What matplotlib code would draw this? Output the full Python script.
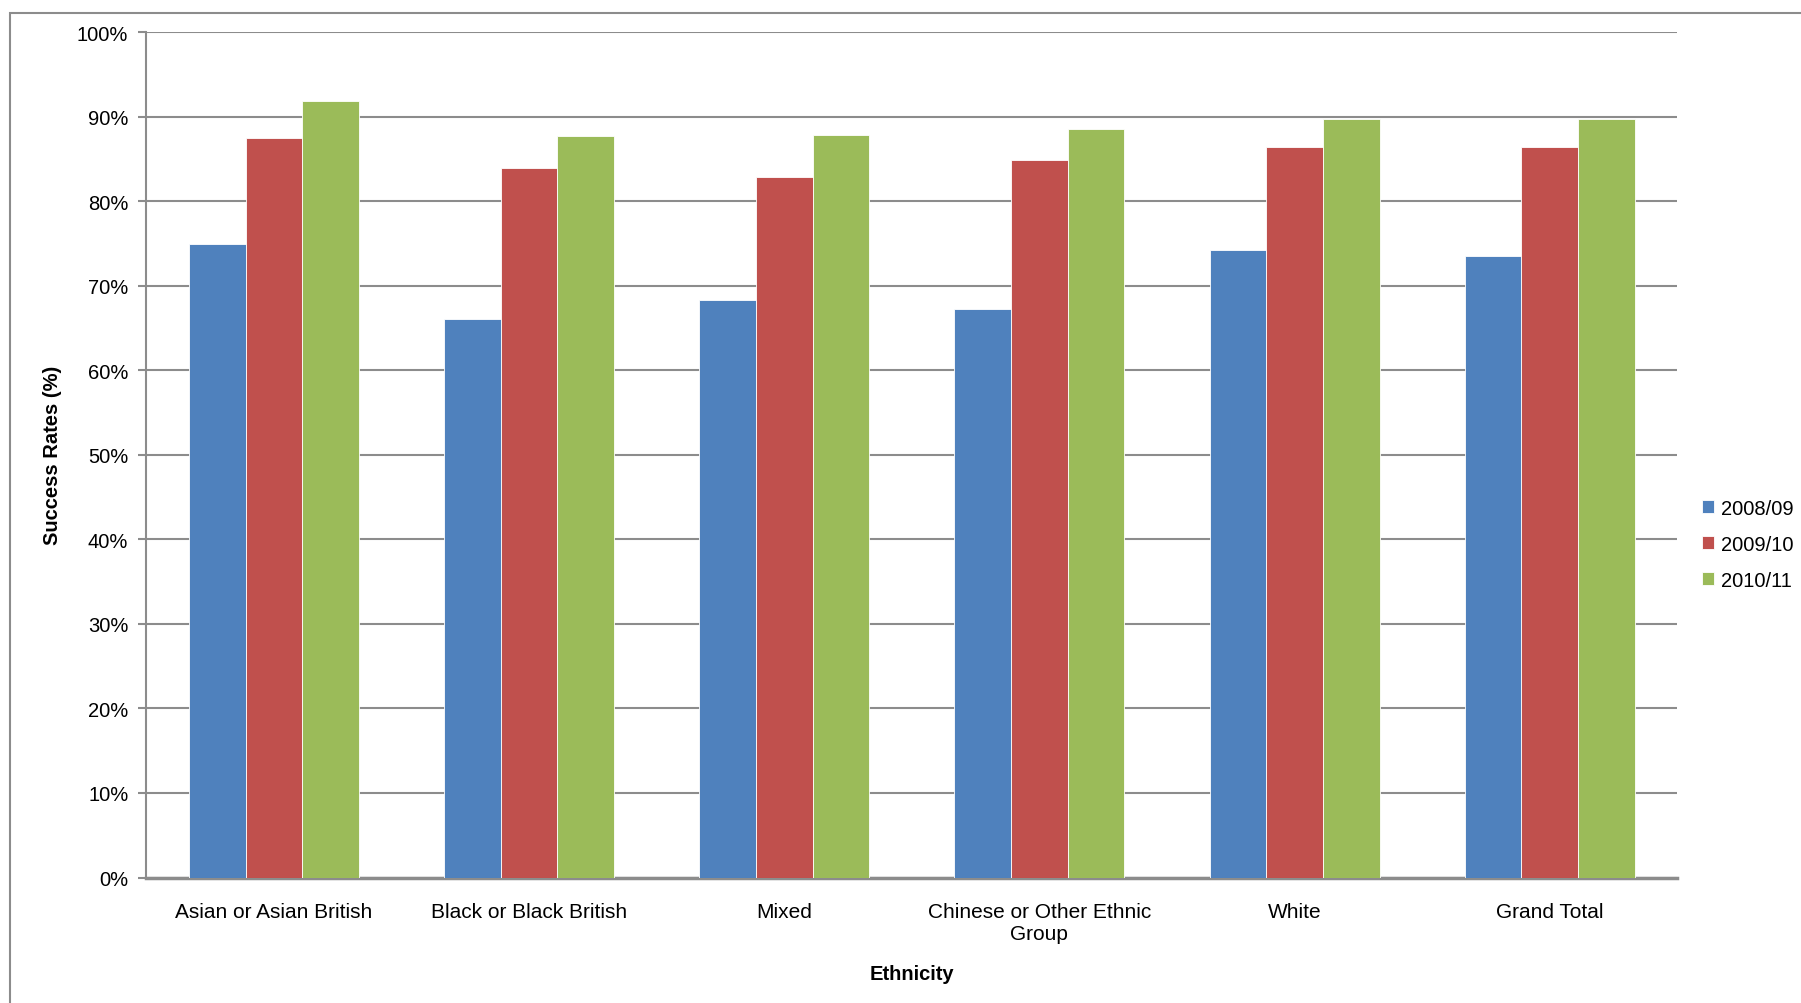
#!/usr/bin/env python3
"""Success rates by ethnicity, three academic years, grouped bar chart."""

import matplotlib

matplotlib.use("Agg")

import matplotlib.pyplot as plt
import numpy as np
from matplotlib.patches import Rectangle
from matplotlib.ticker import FuncFormatter, MultipleLocator


CATEGORIES = [
    "Asian or Asian British",
    "Black or Black British",
    "Mixed",
    "Chinese or Other Ethnic\nGroup",
    "White",
    "Grand Total",
]

YEARS = ["2008/09", "2009/10", "2010/11"]

RATES_2008_09 = [74.9, 66.1, 68.3, 67.2, 74.2, 73.5]
RATES_2009_10 = [87.5, 83.9, 82.9, 84.9, 86.4, 86.4]
RATES_2010_11 = [91.9, 87.7, 87.8, 88.5, 89.7, 89.7]

COLORS = ["#4F81BD", "#C0504D", "#9BBB59"]
GRID_COLOR = "#8C8C8C"

OUTPUT_PATH = "out.png"


def main() -> None:
    plt.rcParams["font.family"] = ["Liberation Sans", "DejaVu Sans"]

    fig = plt.figure(figsize=(18.01, 10.04), dpi=100)
    ax = fig.add_axes([0.0813, 0.125, 0.850, 0.842])

    # outer chart frame, cut off at right and bottom like the source
    fig.patches.append(
        Rectangle(
            (10 / 1801, -0.05),
            1.2,
            1.05 - 14 / 1004,
            transform=fig.transFigure,
            fill=False,
            edgecolor=GRID_COLOR,
            linewidth=1.5,
        )
    )

    series = [RATES_2008_09, RATES_2009_10, RATES_2010_11]
    x = np.arange(len(CATEGORIES))
    bar_width = 0.222

    for index, (year, values) in enumerate(zip(YEARS, series)):
        ax.bar(
            x + (index - 1) * bar_width,
            values,
            width=bar_width,
            color=COLORS[index],
            edgecolor="white",
            linewidth=0.6,
            label=year,
            zorder=3,
        )

    ax.set_xlim(-0.5, len(CATEGORIES) - 0.5)
    ax.set_ylim(0, 100)
    ax.yaxis.set_major_locator(MultipleLocator(10))
    ax.yaxis.set_major_formatter(FuncFormatter(lambda v, _: f"{v:.0f}%"))

    ax.grid(axis="y", color=GRID_COLOR, linewidth=1.5, zorder=0)
    ax.set_axisbelow(True)

    for side in ["top", "right"]:
        ax.spines[side].set_visible(False)
    ax.spines["left"].set_color(GRID_COLOR)
    ax.spines["left"].set_linewidth(1.5)
    ax.spines["bottom"].set_color(GRID_COLOR)
    ax.spines["bottom"].set_linewidth(2.5)

    ax.set_xticks(x)
    ax.set_xticklabels(CATEGORIES, fontsize=15, linespacing=1.2)
    ax.tick_params(axis="x", length=0, pad=18)
    ax.tick_params(axis="y", length=6, width=1.5, color=GRID_COLOR,
                   labelsize=14.5, pad=7)

    ax.set_ylabel("Success Rates (%)", fontsize=14.5, fontweight="bold", labelpad=11)
    ax.set_xlabel("Ethnicity", fontsize=14.5, fontweight="bold", labelpad=15)

    fig.legend(
        *ax.get_legend_handles_labels(),
        loc="center left",
        bbox_to_anchor=(1702 / 1801, 0.457),
        bbox_transform=fig.transFigure,
        frameon=False,
        borderpad=0,
        borderaxespad=0,
        fontsize=14.5,
        handlelength=0.6,
        handleheight=0.6,
        handletextpad=0.35,
        labelspacing=0.85,
    )

    fig.savefig(OUTPUT_PATH, dpi=100)
    plt.close(fig)


if __name__ == "__main__":
    main()
